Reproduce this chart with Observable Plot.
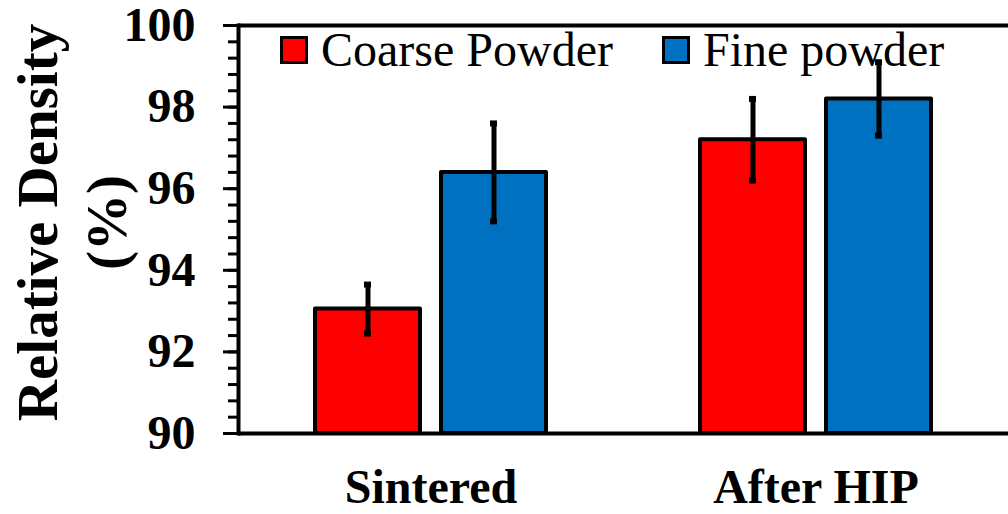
<!DOCTYPE html>
<html>
<head>
<meta charset="utf-8">
<script src="https://cdn.jsdelivr.net/npm/d3@7"></script>
<script src="https://cdn.jsdelivr.net/npm/@observablehq/plot@0.6"></script>
<style>
  html, body { margin: 0; padding: 0; background: #fff; }
  #wrap { position: relative; width: 1008px; height: 514px; font-family: 'Liberation Serif'; }
  #legend { position: absolute; left: 280px; top: 26px; display: flex; align-items: center; font-family: 'Liberation Serif'; font-size: 48px; line-height: 48px; color: #000; pointer-events: none; }
  #legend .item { display: flex; align-items: center; }
  #legend .item + .item { margin-left: 49px; }
  #legend .sw { display: inline-block; width: 28px; height: 28px; box-sizing: border-box; border: 3.5px solid #000; margin-right: 13px; }
</style>
</head>
<body>
<div id="wrap"></div>
<script>
// ---- data ----
const groups = ["Sintered", "After HIP"];
const series = ["Coarse Powder", "Fine powder"];
const seriesColors = ["#FF0000", "#0070C0"];
const coarseValues = [93.05, 97.2];
const coarseErrors = [0.6, 1.0];
const fineValues = [96.4, 98.2];
const fineErrors = [1.2, 0.9];
const yDomain = [90, 100];
const yTicks = [90, 92, 94, 96, 98, 100];
const yMinorStep = 0.4;
const yLabel = "Relative Density\n(%)";

const FONT = "Liberation Serif";

const rows = [];
groups.forEach((g, i) => {
  rows.push({group: g, series: series[0], value: coarseValues[i], err: coarseErrors[i]});
  rows.push({group: g, series: series[1], value: fineValues[i], err: fineErrors[i]});
});
const minorTicks = d3.range(0, Math.round((yDomain[1] - yDomain[0]) / yMinorStep) + 1)
  .map(k => +(yDomain[0] + k * yMinorStep).toFixed(2));

const chart = Plot.plot({
  width: 1008,
  height: 514,
  marginLeft: 238,
  marginRight: 0,
  marginTop: 25,
  marginBottom: 81,
  style: {fontFamily: FONT, color: "#000", background: "#fff", overflow: "visible"},
  fx: {domain: groups, padding: 0},
  x: {domain: series, axis: null, paddingInner: 0.165, paddingOuter: 0.6},
  y: {domain: yDomain},
  color: {domain: series, range: seriesColors},
  marks: [
    Plot.barY(rows, {fx: "group", x: "series", y1: yDomain[0], y2: "value", fill: "series",
      stroke: "#000", strokeWidth: 4, strokeLinejoin: "round"}),
    Plot.ruleX(rows, {fx: "group", x: "series", y1: d => d.value - d.err, y2: d => d.value + d.err,
      stroke: "#000", strokeWidth: 5}),
    Plot.tickY(rows, {fx: "group", x: "series", y: d => d.value - d.err, stroke: "#000", strokeWidth: 6, insetLeft: 49, insetRight: 49}),
    Plot.tickY(rows, {fx: "group", x: "series", y: d => d.value + d.err, stroke: "#000", strokeWidth: 6, insetLeft: 49, insetRight: 49}),
    Plot.ruleY([yDomain[0], yDomain[1]], {stroke: "#000", strokeWidth: 4}),
    Plot.frame({anchor: "left", facetAnchor: "left", stroke: "#000", strokeWidth: 4}),
    Plot.axisY({ticks: minorTicks, tickSize: 10, text: null, strokeWidth: 3, label: null}),
    Plot.axisY({ticks: yTicks, tickSize: 15, tickPadding: 28, strokeWidth: 3, fontFamily: FONT, fontSize: 48, fontWeight: "bold", label: null}),
    Plot.text([yLabel], {frameAnchor: "left", facetAnchor: "left", rotate: -90, dx: -169, dy: -7,
      fontFamily: FONT, fontSize: 57, fontWeight: "bold", lineHeight: 1.21, textAnchor: "middle", lineAnchor: "middle"}),
    Plot.axisFx({anchor: "bottom", tickSize: 0, tickPadding: 35, fontFamily: FONT, fontSize: 48, fontWeight: "bold", label: null})
  ]
});

const wrap = document.getElementById("wrap");
wrap.appendChild(chart);

const legend = document.createElement("div");
legend.id = "legend";
series.forEach((s, i) => {
  const item = document.createElement("div");
  item.className = "item";
  const sw = document.createElement("span");
  sw.className = "sw";
  sw.style.background = seriesColors[i];
  const t = document.createElement("span");
  t.textContent = s;
  item.appendChild(sw);
  item.appendChild(t);
  legend.appendChild(item);
});
wrap.appendChild(legend);
</script>
</body>
</html>
